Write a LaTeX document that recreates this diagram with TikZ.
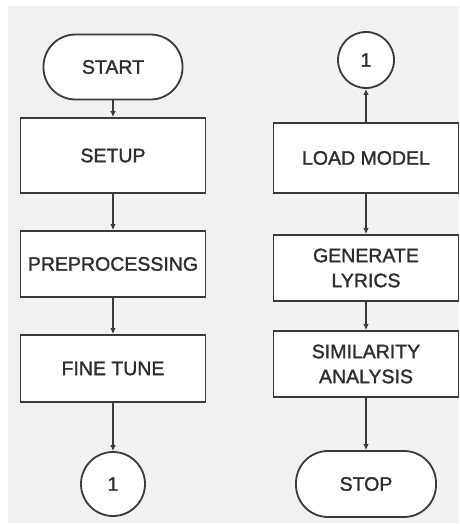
\documentclass[tikz,border=0pt]{standalone}
\usepackage{fontspec}
\setmainfont{Liberation Sans}
\newfontfamily\boxfont[FakeBold=1.4]{Liberation Sans}
\usetikzlibrary{arrows.meta}
\definecolor{bgray}{HTML}{F1F1F1}
\definecolor{edge}{HTML}{3A3A3A}
\definecolor{txt}{HTML}{2E2E2E}
\begin{document}
\begin{tikzpicture}[x=1pt,y=-1pt,
  base/.style={draw=edge, line width=1.8pt, fill=white, text=txt, align=center,
    font=\boxfont\fontsize{19.5}{25}\selectfont, inner sep=0pt},
  procbox/.style={base, rectangle, minimum width=185pt},
  termbox/.style={base, rectangle, rounded corners=32pt, minimum width=139pt, minimum height=65pt},
  conn/.style={base, circle},
  arr/.style={draw=edge, line width=1.2pt, -{Latex[length=6pt,width=5.5pt]}}]
\useasboundingbox (0,0) rectangle (459,524);
\fill[white] (0,0) rectangle (459,524);
\fill[bgray] (8,6) rectangle (459,523);
% left column
\node[termbox] (start) at (113,67) {START};
\node[procbox, minimum height=75pt] (setup) at (113,155.5) {SETUP};
\node[procbox, minimum height=66pt] (prep) at (113,264) {PREPROCESSING};
\node[procbox, minimum height=67pt] (fine) at (113,368.5) {FINE TUNE};
\node[conn, minimum size=64pt] (c1) at (113,484) {1};
% right column
\node[conn, minimum size=56pt] (c2) at (366,60) {1};
\node[procbox, minimum height=70pt] (load) at (366,158) {LOAD MODEL};
\node[procbox, minimum height=66pt] (gen) at (366,268) {GENERATE\\LYRICS};
\node[procbox, minimum height=66pt] (sim) at (366,364) {SIMILARITY\\ANALYSIS};
\node[termbox, minimum width=140pt, minimum height=66pt] (stop) at (366,484) {STOP};
% connectors
\draw[arr] (start) -- (setup);
\draw[arr] (setup) -- (prep);
\draw[arr] (prep) -- (fine);
\draw[arr] (fine) -- (c1);
\draw[arr] (load) -- (c2);
\draw[arr] (load) -- (gen);
\draw[arr] (gen) -- (sim);
\draw[arr] (sim) -- (stop);
\end{tikzpicture}
\end{document}
